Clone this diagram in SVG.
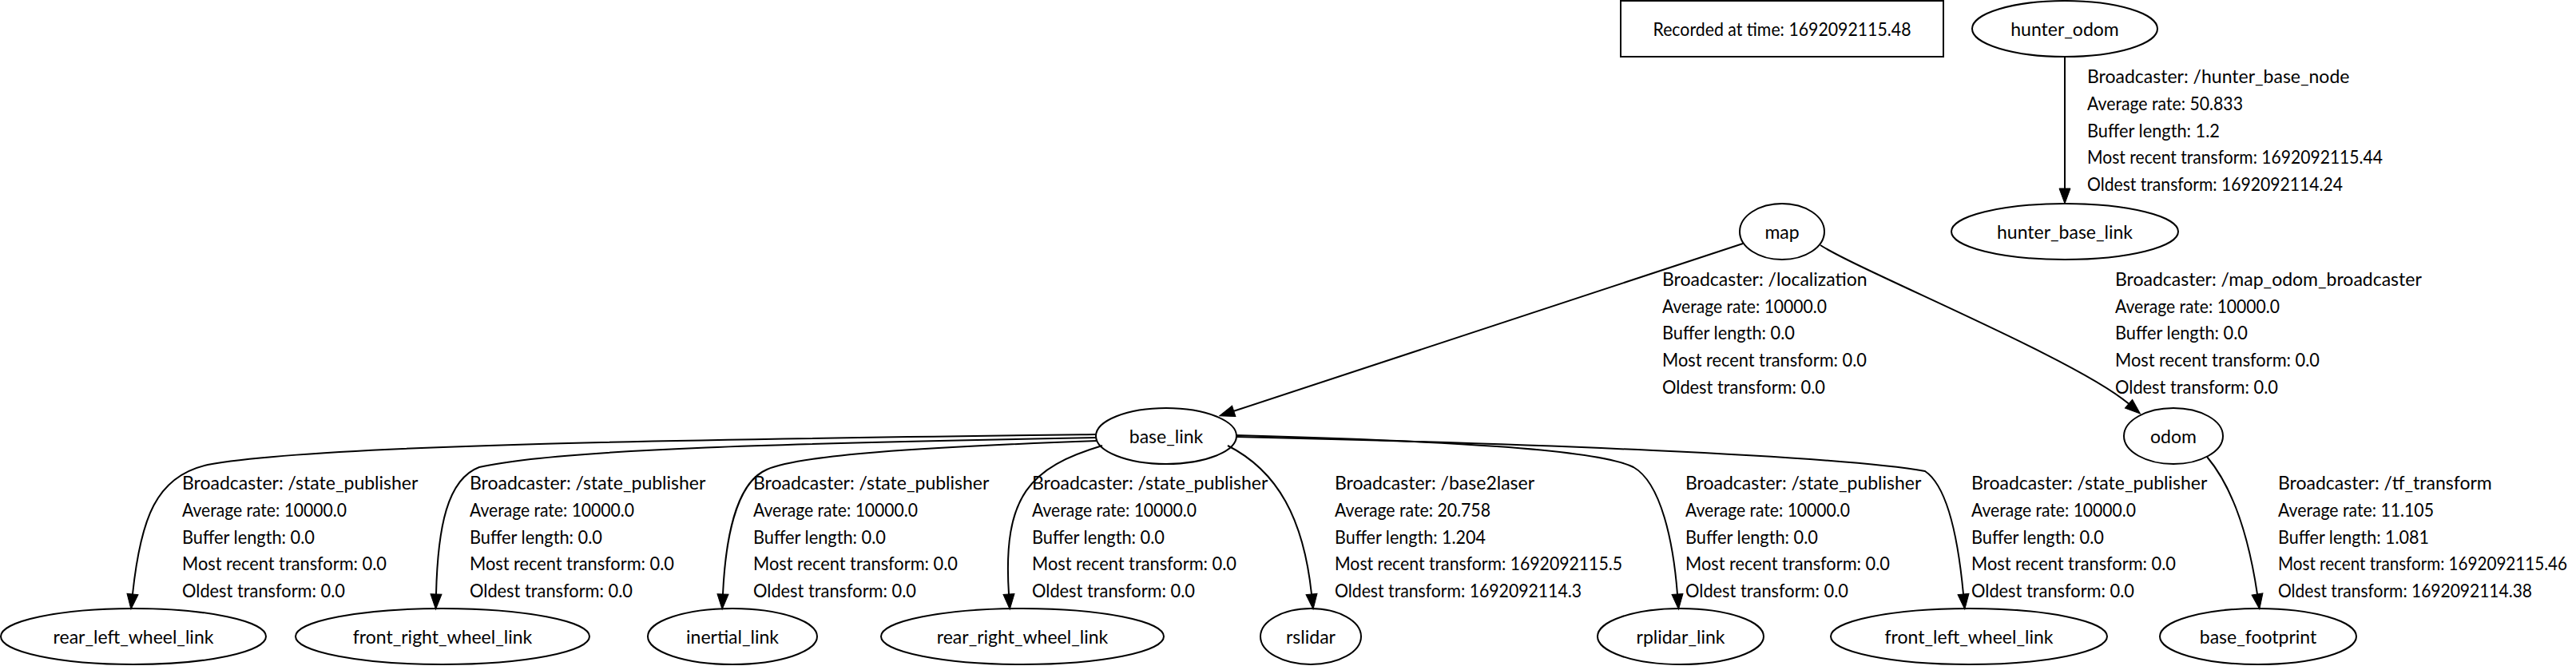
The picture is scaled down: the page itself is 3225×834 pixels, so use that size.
<svg xmlns="http://www.w3.org/2000/svg" width="3225" height="834" viewBox="0 0 3225 834">
<style>
text{font-family:Lato,"Liberation Sans",sans-serif;font-size:23px;fill:#000}
.n{text-anchor:middle}
ellipse,.box{fill:#fff;stroke:#000;stroke-width:2}
.e path{fill:none;stroke:#000;stroke-width:2;marker-end:url(#ah)}
</style>
<defs>
<marker id="ah" markerUnits="userSpaceOnUse" markerWidth="20" markerHeight="16" refX="0" refY="7" orient="auto" overflow="visible">
<polygon points="0,0 19,7 0,14" fill="#000" stroke="#000" stroke-width="1"/>
</marker>
</defs>
<rect width="3225" height="834" fill="#fff"/>
<g id="recorded"><rect class="box" x="2029" y="1" width="404" height="70"/><text class="n" x="2231" y="45" textLength="323" lengthAdjust="spacingAndGlyphs">Recorded at time: 1692092115.48</text></g>
<g id="hunter_odom"><ellipse cx="2585" cy="36" rx="116" ry="35"/><text class="n" x="2585" y="45">hunter_odom</text></g>
<g id="hunter_base_link"><ellipse cx="2585" cy="290" rx="142" ry="35"/><text class="n" x="2585" y="299">hunter_base_link</text></g>
<g id="map"><ellipse cx="2231" cy="290" rx="53" ry="35"/><text class="n" x="2231" y="299">map</text></g>
<g id="base_link"><ellipse cx="1460" cy="546" rx="88" ry="35"/><text class="n" x="1460" y="555">base_link</text></g>
<g id="odom"><ellipse cx="2721" cy="546" rx="62" ry="35"/><text class="n" x="2721" y="555">odom</text></g>
<g id="rear_left_wheel_link"><ellipse cx="167" cy="797" rx="166" ry="35"/><text class="n" x="167" y="806">rear_left_wheel_link</text></g>
<g id="front_right_wheel_link"><ellipse cx="554" cy="797" rx="184" ry="35"/><text class="n" x="554" y="806">front_right_wheel_link</text></g>
<g id="inertial_link"><ellipse cx="917" cy="797" rx="106" ry="35"/><text class="n" x="917" y="806">inertial_link</text></g>
<g id="rear_right_wheel_link"><ellipse cx="1280" cy="797" rx="177" ry="35"/><text class="n" x="1280" y="806">rear_right_wheel_link</text></g>
<g id="rslidar"><ellipse cx="1641" cy="797" rx="63" ry="35"/><text class="n" x="1641" y="806">rslidar</text></g>
<g id="rplidar_link"><ellipse cx="2104" cy="797" rx="104" ry="35"/><text class="n" x="2104" y="806">rplidar_link</text></g>
<g id="front_left_wheel_link"><ellipse cx="2465" cy="797" rx="173" ry="35"/><text class="n" x="2465" y="806">front_left_wheel_link</text></g>
<g id="base_footprint"><ellipse cx="2827" cy="797" rx="123" ry="35"/><text class="n" x="2827" y="806">base_footprint</text></g>
<g id="connectors" class="e">
<path d="M2585,71 L2585,236"/>
<path d="M2182,305 L1544.7,514.8"/>
<path d="M2279,307 C2330,340 2600,450 2665,505.6"/>
<path d="M1373,544 C900,550 400,556 260,582 C195,596 176,650 166,744"/>
<path d="M1373,548 C1000,555 700,562 600,585 C560,600 548,660 546,744"/>
<path d="M1374,552 C1150,560 1000,570 960,588 C920,605 908,680 905,744"/>
<path d="M1380,558 C1290,585 1255,620 1263,744"/>
<path d="M1537,558 C1600,590 1632,650 1642,744"/>
<path d="M1547,545 C1800,552 2000,562 2045,585 C2080,605 2095,680 2100,744"/>
<path d="M1547,547 C1900,555 2300,570 2410,590 C2440,610 2452,680 2458,744"/>
<path d="M2763,572 C2795,610 2815,670 2826,744"/>
</g>
<g id="labels">
<text x="2613" y="104">Broadcaster: /hunter_base_node</text>
<text x="2613" y="138" textLength="195" lengthAdjust="spacingAndGlyphs">Average rate: 50.833</text>
<text x="2613" y="172" textLength="166" lengthAdjust="spacingAndGlyphs">Buffer length: 1.2</text>
<text x="2613" y="205" textLength="370" lengthAdjust="spacingAndGlyphs">Most recent transform: 1692092115.44</text>
<text x="2613" y="239" textLength="320" lengthAdjust="spacingAndGlyphs">Oldest transform: 1692092114.24</text>
<text x="2081" y="358">Broadcaster: /localization</text>
<text x="2081" y="392" textLength="206" lengthAdjust="spacingAndGlyphs">Average rate: 10000.0</text>
<text x="2081" y="425" textLength="166" lengthAdjust="spacingAndGlyphs">Buffer length: 0.0</text>
<text x="2081" y="459" textLength="256" lengthAdjust="spacingAndGlyphs">Most recent transform: 0.0</text>
<text x="2081" y="493" textLength="204" lengthAdjust="spacingAndGlyphs">Oldest transform: 0.0</text>
<text x="2648" y="358">Broadcaster: /map_odom_broadcaster</text>
<text x="2648" y="392" textLength="206" lengthAdjust="spacingAndGlyphs">Average rate: 10000.0</text>
<text x="2648" y="425" textLength="166" lengthAdjust="spacingAndGlyphs">Buffer length: 0.0</text>
<text x="2648" y="459" textLength="256" lengthAdjust="spacingAndGlyphs">Most recent transform: 0.0</text>
<text x="2648" y="493" textLength="204" lengthAdjust="spacingAndGlyphs">Oldest transform: 0.0</text>
<text x="228" y="613">Broadcaster: /state_publisher</text>
<text x="228" y="647" textLength="206" lengthAdjust="spacingAndGlyphs">Average rate: 10000.0</text>
<text x="228" y="681" textLength="166" lengthAdjust="spacingAndGlyphs">Buffer length: 0.0</text>
<text x="228" y="714" textLength="256" lengthAdjust="spacingAndGlyphs">Most recent transform: 0.0</text>
<text x="228" y="748" textLength="204" lengthAdjust="spacingAndGlyphs">Oldest transform: 0.0</text>
<text x="588" y="613">Broadcaster: /state_publisher</text>
<text x="588" y="647" textLength="206" lengthAdjust="spacingAndGlyphs">Average rate: 10000.0</text>
<text x="588" y="681" textLength="166" lengthAdjust="spacingAndGlyphs">Buffer length: 0.0</text>
<text x="588" y="714" textLength="256" lengthAdjust="spacingAndGlyphs">Most recent transform: 0.0</text>
<text x="588" y="748" textLength="204" lengthAdjust="spacingAndGlyphs">Oldest transform: 0.0</text>
<text x="943" y="613">Broadcaster: /state_publisher</text>
<text x="943" y="647" textLength="206" lengthAdjust="spacingAndGlyphs">Average rate: 10000.0</text>
<text x="943" y="681" textLength="166" lengthAdjust="spacingAndGlyphs">Buffer length: 0.0</text>
<text x="943" y="714" textLength="256" lengthAdjust="spacingAndGlyphs">Most recent transform: 0.0</text>
<text x="943" y="748" textLength="204" lengthAdjust="spacingAndGlyphs">Oldest transform: 0.0</text>
<text x="1292" y="613">Broadcaster: /state_publisher</text>
<text x="1292" y="647" textLength="206" lengthAdjust="spacingAndGlyphs">Average rate: 10000.0</text>
<text x="1292" y="681" textLength="166" lengthAdjust="spacingAndGlyphs">Buffer length: 0.0</text>
<text x="1292" y="714" textLength="256" lengthAdjust="spacingAndGlyphs">Most recent transform: 0.0</text>
<text x="1292" y="748" textLength="204" lengthAdjust="spacingAndGlyphs">Oldest transform: 0.0</text>
<text x="1671" y="613">Broadcaster: /base2laser</text>
<text x="1671" y="647" textLength="195" lengthAdjust="spacingAndGlyphs">Average rate: 20.758</text>
<text x="1671" y="681" textLength="189" lengthAdjust="spacingAndGlyphs">Buffer length: 1.204</text>
<text x="1671" y="714" textLength="360" lengthAdjust="spacingAndGlyphs">Most recent transform: 1692092115.5</text>
<text x="1671" y="748" textLength="309" lengthAdjust="spacingAndGlyphs">Oldest transform: 1692092114.3</text>
<text x="2110" y="613">Broadcaster: /state_publisher</text>
<text x="2110" y="647" textLength="206" lengthAdjust="spacingAndGlyphs">Average rate: 10000.0</text>
<text x="2110" y="681" textLength="166" lengthAdjust="spacingAndGlyphs">Buffer length: 0.0</text>
<text x="2110" y="714" textLength="256" lengthAdjust="spacingAndGlyphs">Most recent transform: 0.0</text>
<text x="2110" y="748" textLength="204" lengthAdjust="spacingAndGlyphs">Oldest transform: 0.0</text>
<text x="2468" y="613">Broadcaster: /state_publisher</text>
<text x="2468" y="647" textLength="206" lengthAdjust="spacingAndGlyphs">Average rate: 10000.0</text>
<text x="2468" y="681" textLength="166" lengthAdjust="spacingAndGlyphs">Buffer length: 0.0</text>
<text x="2468" y="714" textLength="256" lengthAdjust="spacingAndGlyphs">Most recent transform: 0.0</text>
<text x="2468" y="748" textLength="204" lengthAdjust="spacingAndGlyphs">Oldest transform: 0.0</text>
<text x="2852" y="613">Broadcaster: /tf_transform</text>
<text x="2852" y="647" textLength="195" lengthAdjust="spacingAndGlyphs">Average rate: 11.105</text>
<text x="2852" y="681" textLength="189" lengthAdjust="spacingAndGlyphs">Buffer length: 1.081</text>
<text x="2852" y="714" textLength="362" lengthAdjust="spacingAndGlyphs">Most recent transform: 1692092115.46</text>
<text x="2852" y="748" textLength="318" lengthAdjust="spacingAndGlyphs">Oldest transform: 1692092114.38</text>
</g>
</svg>
